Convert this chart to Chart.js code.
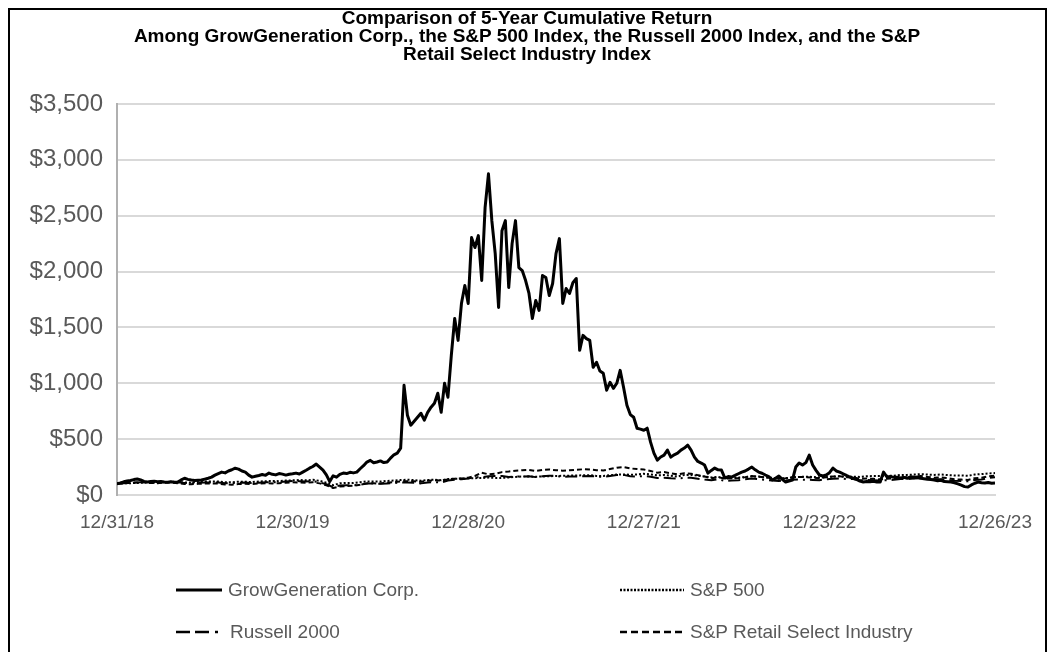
<!DOCTYPE html>
<html>
<head>
<meta charset="utf-8">
<script src="https://cdn.jsdelivr.net/npm/chart.js@4.4.1/dist/chart.umd.min.js"></script>
<style>
  html,body{margin:0;padding:0;background:#fff;overflow:hidden;}
  #wrap{position:relative;width:1054px;height:652px;overflow:hidden;}
  #frame{position:absolute;left:8px;top:8px;width:1035px;height:700px;border:2px solid #000;border-bottom:none;box-sizing:content-box;}
  #c{position:absolute;left:0;top:0;}
  #title{position:absolute;left:0;top:9px;width:1054px;text-align:center;font-family:"Liberation Sans",Arial,sans-serif;font-weight:bold;font-size:19px;line-height:18px;color:#000;}
  .leg{position:absolute;font-family:"Liberation Sans",Arial,sans-serif;font-size:19px;color:#595959;line-height:22px;white-space:nowrap;}
  .sw{position:absolute;}
</style>
</head>
<body>
<div id="wrap">
  <canvas id="c" width="1054" height="652"></canvas>
  <div id="frame"></div>
  <div id="title">Comparison of 5-Year Cumulative Return<br>Among GrowGeneration Corp., the S&amp;P 500 Index, the Russell 2000 Index, and the S&amp;P<br>Retail Select Industry Index</div>
  <div id="legend"></div>
</div>
<script>
// ---- Data ----
const xTickLabels = ['12/31/18','12/30/19','12/28/20','12/27/21','12/23/22','12/26/23'];
const xTickWeeks  = [0, 52, 104, 156, 208, 260];

// GrowGeneration Corp., weekly values (week 0 = 12/31/18)
const growGen = [
  100,108,118,125,130,138,143,135,122,116,
  120,124,118,121,117,114,119,115,116,135,
  150,140,134,130,133,134,142,150,160,178,
  192,205,198,215,226,240,232,215,205,178,
  160,168,175,183,176,196,185,180,192,187,
  178,186,190,196,188,205,222,240,255,277,
  250,223,180,120,172,160,185,196,192,203,
  198,205,235,262,295,310,288,295,305,290,
  295,330,360,375,420,982,714,625,660,696,
  732,670,740,786,821,911,740,1000,875,1250,
  1580,1384,1714,1875,1714,2304,2215,2322,1920,2572,
  2875,2456,2161,1679,2366,2456,1857,2250,2456,2036,
  2009,1920,1804,1580,1741,1652,1965,1947,1786,1893,
  2161,2295,1714,1848,1804,1900,1938,1295,1429,1400,
  1384,1143,1188,1110,1089,938,1009,955,1000,1116,
  964,804,720,696,598,590,580,598,473,375,
  312,340,357,402,339,360,375,402,420,446,
  402,339,300,286,268,196,220,241,225,223,
  152,165,161,175,190,205,215,232,250,225,
  205,195,179,165,134,150,170,140,116,125,
  134,250,286,268,290,357,268,220,179,170,
  179,200,241,215,205,190,175,161,150,140,
  125,116,120,118,122,116,116,205,161,165,
  158,160,152,158,150,162,155,161,150,145,
  140,138,134,128,132,120,118,116,110,100,
  89,75,71,90,105,116,110,107,112,105,
  107
];

// Index series, every two weeks (point k = week 2k)
const sp500 = [
  100,104,106,108,112,110,113,116,118,117,
  113,110,117,120,121,121,115,114,119,119,
  116,120,124,125,124,129,131,134,131,136,
  127,110,88,105,108,108,115,122,121,120,
  126,129,134,137,133,128,134,137,132,143,
  145,147,150,151,152,156,153,153,157,162,
  165,166,163,166,168,170,172,173,175,176,
  178,171,170,177,183,184,181,184,190,184,
  176,179,172,165,179,180,172,165,157,162,
  149,155,155,160,167,165,158,154,146,150,
  158,162,163,162,157,160,165,168,163,163,
  162,168,170,170,172,173,180,180,183,187,
  183,180,183,178,175,175,172,183,187,193,
  196
];
const russell2000 = [
  100,105,109,113,116,113,109,114,116,113,
  108,104,110,113,113,112,106,104,110,111,
  106,110,115,115,115,120,125,124,121,124,
  113,96,70,85,88,86,92,103,103,100,
  104,107,113,112,110,104,112,116,112,130,
  137,141,148,160,158,168,169,170,162,165,
  166,167,160,168,172,171,162,166,166,167,
  170,165,163,170,178,180,168,165,170,163,
  152,155,150,147,155,154,146,138,132,140,
  126,130,132,140,147,142,135,130,125,130,
  137,138,137,135,133,140,146,149,143,144,
  130,134,133,130,132,136,144,142,148,150,
  144,140,142,134,128,126,122,135,138,152,
  158
];
const retailSelect = [
  100,106,110,112,114,108,106,110,112,106,
  98,96,100,102,104,102,94,92,98,100,
  97,103,106,104,106,110,114,112,110,114,
  104,86,62,75,80,82,92,104,105,102,
  110,115,122,124,122,118,128,132,128,140,
  145,148,155,170,200,185,190,205,210,218,
  222,225,215,225,228,222,218,222,226,230,
  228,222,220,232,245,250,238,232,228,215,
  200,205,195,185,195,190,178,165,150,160,
  145,150,152,160,170,163,158,152,145,150,
  158,162,160,155,150,158,165,168,158,160,
  145,148,145,140,145,148,158,160,166,170,
  162,155,158,150,140,138,135,150,155,168,
  172
];

const seriesNames = ['GrowGeneration Corp.', 'S&P 500', 'Russell 2000', 'S&P Retail Select Industry'];

// ---- Chart ----
const weekly = arr => arr.map((v, i) => ({x: i, y: v}));
const biweekly = arr => arr.map((v, k) => ({x: 2 * k, y: v}));

const styles = [
  {dash: [], width: 3, legendDash: ''},
  {dash: [2, 2], width: 2, legendDash: '2 1.5'},
  {dash: [12, 5, 12, 5, 2, 5], width: 2, legendDash: '14 5 14 6 3 6'},
  {dash: [5, 3], width: 2, legendDash: '7 4'}
];

const ctx = document.getElementById('c').getContext('2d');
new Chart(ctx, {
  type: 'line',
  data: {
    datasets: [
      {label: seriesNames[0], data: weekly(growGen)},
      {label: seriesNames[1], data: biweekly(sp500)},
      {label: seriesNames[2], data: biweekly(russell2000)},
      {label: seriesNames[3], data: biweekly(retailSelect)}
    ].map((d, i) => Object.assign(d, {
      borderColor: '#000', backgroundColor: '#000',
      borderWidth: styles[i].width, borderDash: styles[i].dash,
      pointRadius: 0, tension: 0, fill: false,
      borderJoinStyle: 'round', borderCapStyle: 'butt'
    }))
  },
  options: {
    responsive: false,
    animation: false,
    devicePixelRatio: 1,
    layout: {padding: {left: 0, right: 59, top: 104, bottom: 97}},
    plugins: {legend: {display: false}, title: {display: false}, tooltip: {enabled: false}},
    scales: {
      x: {
        type: 'linear', min: 0, max: 260,
        afterBuildTicks: s => { s.ticks = xTickWeeks.map(v => ({value: v})); },
        afterFit: s => { s.height = 60; },
        ticks: {
          autoSkip: false, maxRotation: 0, padding: 16,
          color: '#595959',
          font: {family: '"Liberation Sans", Arial, sans-serif', size: 19},
          callback: v => xTickLabels[xTickWeeks.indexOf(v)]
        },
        grid: {display: false, drawTicks: false},
        border: {display: true, color: '#d9d9d9', width: 2}
      },
      y: {
        min: 0, max: 3500,
        afterFit: s => { s.width = 117; },
        ticks: {
          stepSize: 500, padding: 14,
          color: '#595959',
          font: {family: '"Liberation Sans", Arial, sans-serif', size: 24},
          callback: v => '$' + v.toLocaleString('en-US')
        },
        grid: {color: '#d9d9d9', lineWidth: 2, drawTicks: false},
        border: {display: true, color: '#b0b0b0', width: 2}
      }
    }
  }
});

// ---- Legend (HTML text, line samples as SVG) ----
const legendPos = [
  {sx: 176, sw: 46, tx: 228, y: 590},
  {sx: 620, sw: 64, tx: 690, y: 590},
  {sx: 176, sw: 48, tx: 230, y: 632},
  {sx: 620, sw: 64, tx: 690, y: 632}
];
const legend = document.getElementById('legend');
seriesNames.forEach((name, i) => {
  const p = legendPos[i];
  const st = styles[i];
  const svgNS = 'http://www.w3.org/2000/svg';
  const svg = document.createElementNS(svgNS, 'svg');
  svg.setAttribute('class', 'sw');
  svg.setAttribute('width', p.sw);
  svg.setAttribute('height', 6);
  svg.style.left = p.sx + 'px';
  svg.style.top = (p.y - 3) + 'px';
  const ln = document.createElementNS(svgNS, 'line');
  ln.setAttribute('x1', 0); ln.setAttribute('x2', p.sw);
  ln.setAttribute('y1', 3); ln.setAttribute('y2', 3);
  ln.setAttribute('stroke', '#000');
  ln.setAttribute('stroke-width', i === 0 ? 3 : 2.5);
  if (st.legendDash) ln.setAttribute('stroke-dasharray', st.legendDash);
  svg.appendChild(ln);
  legend.appendChild(svg);
  const t = document.createElement('div');
  t.className = 'leg';
  t.textContent = name;
  t.style.left = p.tx + 'px';
  t.style.top = (p.y - 11) + 'px';
  legend.appendChild(t);
});
</script>
</body>
</html>
